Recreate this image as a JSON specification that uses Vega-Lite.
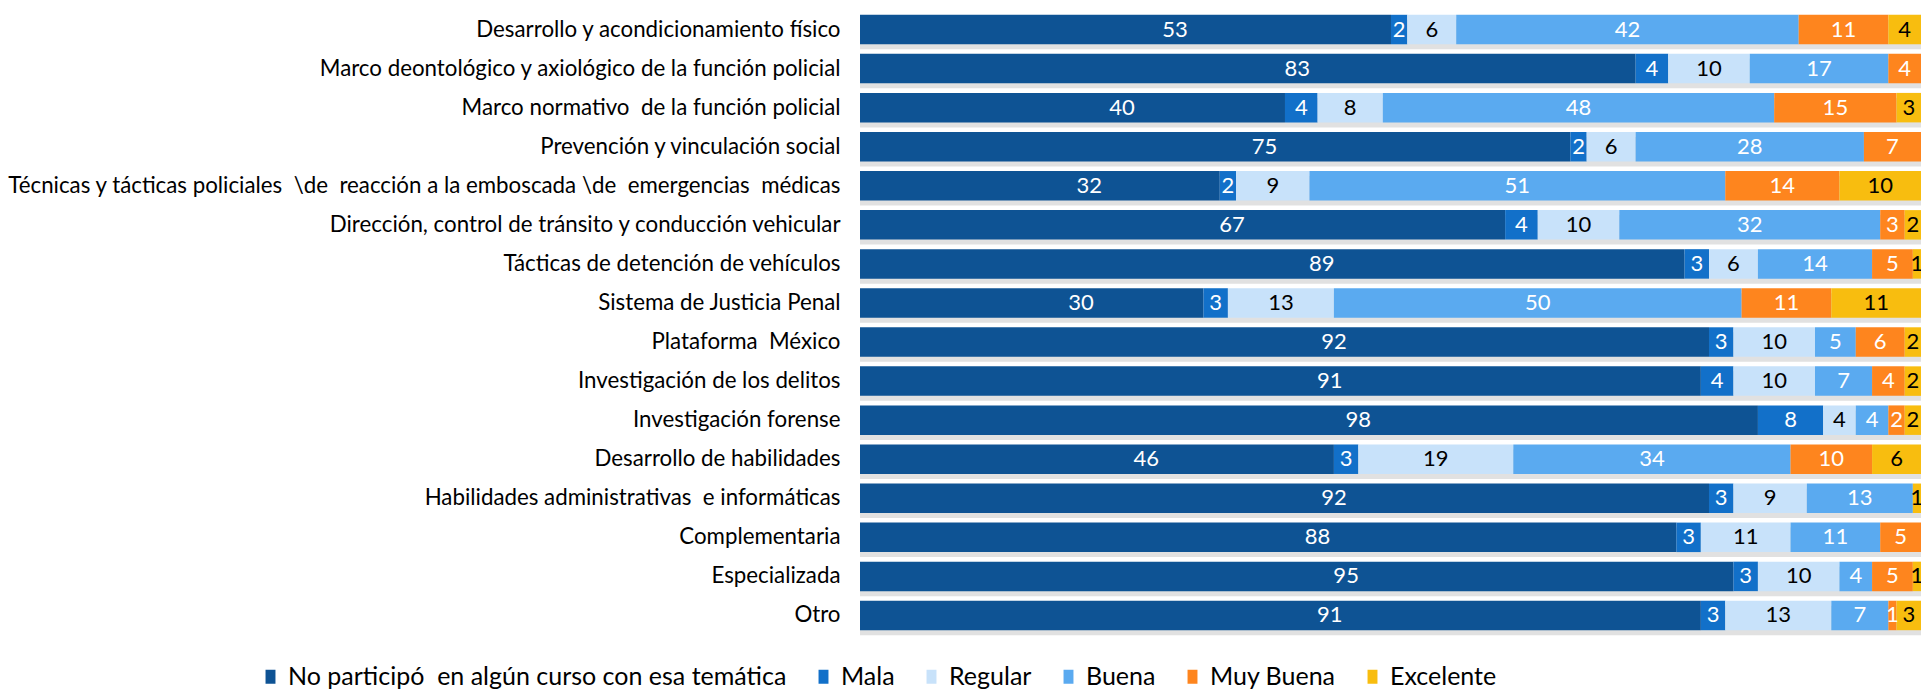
{
  "$schema": "https://vega.github.io/schema/vega-lite/v6.json",
  "width": 1061,
  "height": 625,
  "autosize": {"type": "none"},
  "padding": {"left": 860, "top": 10, "right": 0, "bottom": 54},
  "background": "white",
  "config": {"view": {"stroke": null}, "font": "Lato"},
  "data": {"values": [
    {"curso": "Desarrollo y acondicionamiento físico", "calificacion": "No participó\u00a0 en algún curso con esa temática", "orden": 1, "n": 53},
    {"curso": "Desarrollo y acondicionamiento físico", "calificacion": "Mala", "orden": 2, "n": 2},
    {"curso": "Desarrollo y acondicionamiento físico", "calificacion": "Regular", "orden": 3, "n": 6},
    {"curso": "Desarrollo y acondicionamiento físico", "calificacion": "Buena", "orden": 4, "n": 42},
    {"curso": "Desarrollo y acondicionamiento físico", "calificacion": "Muy Buena", "orden": 5, "n": 11},
    {"curso": "Desarrollo y acondicionamiento físico", "calificacion": "Excelente", "orden": 6, "n": 4},
    {"curso": "Marco deontológico y axiológico de la función policial", "calificacion": "No participó\u00a0 en algún curso con esa temática", "orden": 1, "n": 83},
    {"curso": "Marco deontológico y axiológico de la función policial", "calificacion": "Mala", "orden": 2, "n": 4},
    {"curso": "Marco deontológico y axiológico de la función policial", "calificacion": "Regular", "orden": 3, "n": 10},
    {"curso": "Marco deontológico y axiológico de la función policial", "calificacion": "Buena", "orden": 4, "n": 17},
    {"curso": "Marco deontológico y axiológico de la función policial", "calificacion": "Muy Buena", "orden": 5, "n": 4},
    {"curso": "Marco normativo\u00a0 de la función policial\u00a0\u00a0", "calificacion": "No participó\u00a0 en algún curso con esa temática", "orden": 1, "n": 40},
    {"curso": "Marco normativo\u00a0 de la función policial\u00a0\u00a0", "calificacion": "Mala", "orden": 2, "n": 4},
    {"curso": "Marco normativo\u00a0 de la función policial\u00a0\u00a0", "calificacion": "Regular", "orden": 3, "n": 8},
    {"curso": "Marco normativo\u00a0 de la función policial\u00a0\u00a0", "calificacion": "Buena", "orden": 4, "n": 48},
    {"curso": "Marco normativo\u00a0 de la función policial\u00a0\u00a0", "calificacion": "Muy Buena", "orden": 5, "n": 15},
    {"curso": "Marco normativo\u00a0 de la función policial\u00a0\u00a0", "calificacion": "Excelente", "orden": 6, "n": 3},
    {"curso": "Prevención y vinculación social", "calificacion": "No participó\u00a0 en algún curso con esa temática", "orden": 1, "n": 75},
    {"curso": "Prevención y vinculación social", "calificacion": "Mala", "orden": 2, "n": 2},
    {"curso": "Prevención y vinculación social", "calificacion": "Regular", "orden": 3, "n": 6},
    {"curso": "Prevención y vinculación social", "calificacion": "Buena", "orden": 4, "n": 28},
    {"curso": "Prevención y vinculación social", "calificacion": "Muy Buena", "orden": 5, "n": 7},
    {"curso": "Técnicas y tácticas policiales\u00a0 \\de\u00a0 reacción a la emboscada \\de\u00a0 emergencias\u00a0 médicas", "calificacion": "No participó\u00a0 en algún curso con esa temática", "orden": 1, "n": 32},
    {"curso": "Técnicas y tácticas policiales\u00a0 \\de\u00a0 reacción a la emboscada \\de\u00a0 emergencias\u00a0 médicas", "calificacion": "Mala", "orden": 2, "n": 2},
    {"curso": "Técnicas y tácticas policiales\u00a0 \\de\u00a0 reacción a la emboscada \\de\u00a0 emergencias\u00a0 médicas", "calificacion": "Regular", "orden": 3, "n": 9},
    {"curso": "Técnicas y tácticas policiales\u00a0 \\de\u00a0 reacción a la emboscada \\de\u00a0 emergencias\u00a0 médicas", "calificacion": "Buena", "orden": 4, "n": 51},
    {"curso": "Técnicas y tácticas policiales\u00a0 \\de\u00a0 reacción a la emboscada \\de\u00a0 emergencias\u00a0 médicas", "calificacion": "Muy Buena", "orden": 5, "n": 14},
    {"curso": "Técnicas y tácticas policiales\u00a0 \\de\u00a0 reacción a la emboscada \\de\u00a0 emergencias\u00a0 médicas", "calificacion": "Excelente", "orden": 6, "n": 10},
    {"curso": "Dirección, control de tránsito y conducción vehicular", "calificacion": "No participó\u00a0 en algún curso con esa temática", "orden": 1, "n": 67},
    {"curso": "Dirección, control de tránsito y conducción vehicular", "calificacion": "Mala", "orden": 2, "n": 4},
    {"curso": "Dirección, control de tránsito y conducción vehicular", "calificacion": "Regular", "orden": 3, "n": 10},
    {"curso": "Dirección, control de tránsito y conducción vehicular", "calificacion": "Buena", "orden": 4, "n": 32},
    {"curso": "Dirección, control de tránsito y conducción vehicular", "calificacion": "Muy Buena", "orden": 5, "n": 3},
    {"curso": "Dirección, control de tránsito y conducción vehicular", "calificacion": "Excelente", "orden": 6, "n": 2},
    {"curso": "Tácticas de detención de vehículos", "calificacion": "No participó\u00a0 en algún curso con esa temática", "orden": 1, "n": 89},
    {"curso": "Tácticas de detención de vehículos", "calificacion": "Mala", "orden": 2, "n": 3},
    {"curso": "Tácticas de detención de vehículos", "calificacion": "Regular", "orden": 3, "n": 6},
    {"curso": "Tácticas de detención de vehículos", "calificacion": "Buena", "orden": 4, "n": 14},
    {"curso": "Tácticas de detención de vehículos", "calificacion": "Muy Buena", "orden": 5, "n": 5},
    {"curso": "Tácticas de detención de vehículos", "calificacion": "Excelente", "orden": 6, "n": 1},
    {"curso": "Sistema de Justicia Penal", "calificacion": "No participó\u00a0 en algún curso con esa temática", "orden": 1, "n": 30},
    {"curso": "Sistema de Justicia Penal", "calificacion": "Mala", "orden": 2, "n": 3},
    {"curso": "Sistema de Justicia Penal", "calificacion": "Regular", "orden": 3, "n": 13},
    {"curso": "Sistema de Justicia Penal", "calificacion": "Buena", "orden": 4, "n": 50},
    {"curso": "Sistema de Justicia Penal", "calificacion": "Muy Buena", "orden": 5, "n": 11},
    {"curso": "Sistema de Justicia Penal", "calificacion": "Excelente", "orden": 6, "n": 11},
    {"curso": "Plataforma\u00a0 México", "calificacion": "No participó\u00a0 en algún curso con esa temática", "orden": 1, "n": 92},
    {"curso": "Plataforma\u00a0 México", "calificacion": "Mala", "orden": 2, "n": 3},
    {"curso": "Plataforma\u00a0 México", "calificacion": "Regular", "orden": 3, "n": 10},
    {"curso": "Plataforma\u00a0 México", "calificacion": "Buena", "orden": 4, "n": 5},
    {"curso": "Plataforma\u00a0 México", "calificacion": "Muy Buena", "orden": 5, "n": 6},
    {"curso": "Plataforma\u00a0 México", "calificacion": "Excelente", "orden": 6, "n": 2},
    {"curso": "Investigación de los delitos", "calificacion": "No participó\u00a0 en algún curso con esa temática", "orden": 1, "n": 91},
    {"curso": "Investigación de los delitos", "calificacion": "Mala", "orden": 2, "n": 4},
    {"curso": "Investigación de los delitos", "calificacion": "Regular", "orden": 3, "n": 10},
    {"curso": "Investigación de los delitos", "calificacion": "Buena", "orden": 4, "n": 7},
    {"curso": "Investigación de los delitos", "calificacion": "Muy Buena", "orden": 5, "n": 4},
    {"curso": "Investigación de los delitos", "calificacion": "Excelente", "orden": 6, "n": 2},
    {"curso": "Investigación forense", "calificacion": "No participó\u00a0 en algún curso con esa temática", "orden": 1, "n": 98},
    {"curso": "Investigación forense", "calificacion": "Mala", "orden": 2, "n": 8},
    {"curso": "Investigación forense", "calificacion": "Regular", "orden": 3, "n": 4},
    {"curso": "Investigación forense", "calificacion": "Buena", "orden": 4, "n": 4},
    {"curso": "Investigación forense", "calificacion": "Muy Buena", "orden": 5, "n": 2},
    {"curso": "Investigación forense", "calificacion": "Excelente", "orden": 6, "n": 2},
    {"curso": "Desarrollo de habilidades", "calificacion": "No participó\u00a0 en algún curso con esa temática", "orden": 1, "n": 46},
    {"curso": "Desarrollo de habilidades", "calificacion": "Mala", "orden": 2, "n": 3},
    {"curso": "Desarrollo de habilidades", "calificacion": "Regular", "orden": 3, "n": 19},
    {"curso": "Desarrollo de habilidades", "calificacion": "Buena", "orden": 4, "n": 34},
    {"curso": "Desarrollo de habilidades", "calificacion": "Muy Buena", "orden": 5, "n": 10},
    {"curso": "Desarrollo de habilidades", "calificacion": "Excelente", "orden": 6, "n": 6},
    {"curso": "Habilidades administrativas\u00a0 e informáticas", "calificacion": "No participó\u00a0 en algún curso con esa temática", "orden": 1, "n": 92},
    {"curso": "Habilidades administrativas\u00a0 e informáticas", "calificacion": "Mala", "orden": 2, "n": 3},
    {"curso": "Habilidades administrativas\u00a0 e informáticas", "calificacion": "Regular", "orden": 3, "n": 9},
    {"curso": "Habilidades administrativas\u00a0 e informáticas", "calificacion": "Buena", "orden": 4, "n": 13},
    {"curso": "Habilidades administrativas\u00a0 e informáticas", "calificacion": "Excelente", "orden": 6, "n": 1},
    {"curso": "Complementaria", "calificacion": "No participó\u00a0 en algún curso con esa temática", "orden": 1, "n": 88},
    {"curso": "Complementaria", "calificacion": "Mala", "orden": 2, "n": 3},
    {"curso": "Complementaria", "calificacion": "Regular", "orden": 3, "n": 11},
    {"curso": "Complementaria", "calificacion": "Buena", "orden": 4, "n": 11},
    {"curso": "Complementaria", "calificacion": "Muy Buena", "orden": 5, "n": 5},
    {"curso": "Especializada", "calificacion": "No participó\u00a0 en algún curso con esa temática", "orden": 1, "n": 95},
    {"curso": "Especializada", "calificacion": "Mala", "orden": 2, "n": 3},
    {"curso": "Especializada", "calificacion": "Regular", "orden": 3, "n": 10},
    {"curso": "Especializada", "calificacion": "Buena", "orden": 4, "n": 4},
    {"curso": "Especializada", "calificacion": "Muy Buena", "orden": 5, "n": 5},
    {"curso": "Especializada", "calificacion": "Excelente", "orden": 6, "n": 1},
    {"curso": "Otro", "calificacion": "No participó\u00a0 en algún curso con esa temática", "orden": 1, "n": 91},
    {"curso": "Otro", "calificacion": "Mala", "orden": 2, "n": 3},
    {"curso": "Otro", "calificacion": "Regular", "orden": 3, "n": 13},
    {"curso": "Otro", "calificacion": "Buena", "orden": 4, "n": 7},
    {"curso": "Otro", "calificacion": "Muy Buena", "orden": 5, "n": 1},
    {"curso": "Otro", "calificacion": "Excelente", "orden": 6, "n": 3}
  ]},
  "encoding": {
    "y": {
      "field": "curso", "type": "nominal", "sort": null, "title": null,
      "scale": {"paddingInner": 0.245, "paddingOuter": 0.1225},
      "axis": {"domain": false, "ticks": false, "labelPadding": 20, "labelFontSize": 22.3, "labelColor": "#000000", "labelLimit": 0, "labelFont": "Lato"}
    }
  },
  "layer": [
    {
      "mark": {"type": "bar", "color": "#d4d4d4", "yOffset": 5, "opacity": 0.7},
      "encoding": {
        "x": {"aggregate": "sum", "field": "n", "type": "quantitative", "stack": null,
              "scale": {"domain": [0, 0.01, 118], "range": [0, 98.9, 1061], "nice": false, "zero": false}, "axis": null}
      }
    },
    {
      "mark": {"type": "bar"},
      "encoding": {
        "x": {"field": "n", "type": "quantitative", "stack": "zero", "axis": null},
        "order": {"field": "orden", "type": "quantitative", "sort": "ascending"},
        "color": {
          "field": "calificacion", "type": "nominal",
          "scale": {
            "domain": ["No participó\u00a0 en algún curso con esa temática", "Mala", "Regular", "Buena", "Muy Buena", "Excelente"],
            "range": ["#0E5394", "#1270C9", "#C8E2FA", "#5AAAF0", "#FE851E", "#F8BD0F"]
          },
          "legend": {
            "orient": "none", "legendX": -602, "legendY": 654, "direction": "horizontal", "title": null,
            "labelFontSize": 25, "labelFont": "Lato", "labelColor": "#000000", "labelLimit": 0,
            "symbolType": "M-0.71,-1H0.71V1H-0.71Z", "symbolSize": 196, "symbolStrokeWidth": 0,
            "labelOffset": 5, "columnPadding": 24
          }
        }
      }
    },
    {
      "mark": {"type": "text", "fontSize": 22, "font": "Lato", "baseline": "middle", "align": "center"},
      "encoding": {
        "x": {"field": "n", "type": "quantitative", "stack": "zero", "bandPosition": 0.5},
        "order": {"field": "orden", "type": "quantitative", "sort": "ascending"},
        "text": {"field": "n", "type": "quantitative"},
        "color": {
          "field": "calificacion", "type": "nominal",
          "scale": {
            "domain": ["No participó\u00a0 en algún curso con esa temática", "Mala", "Regular", "Buena", "Muy Buena", "Excelente"],
            "range": ["#ffffff", "#ffffff", "#000000", "#ffffff", "#ffffff", "#000000"]
          },
          "legend": null
        }
      }
    }
  ],
  "resolve": {"scale": {"color": "independent"}}
}
